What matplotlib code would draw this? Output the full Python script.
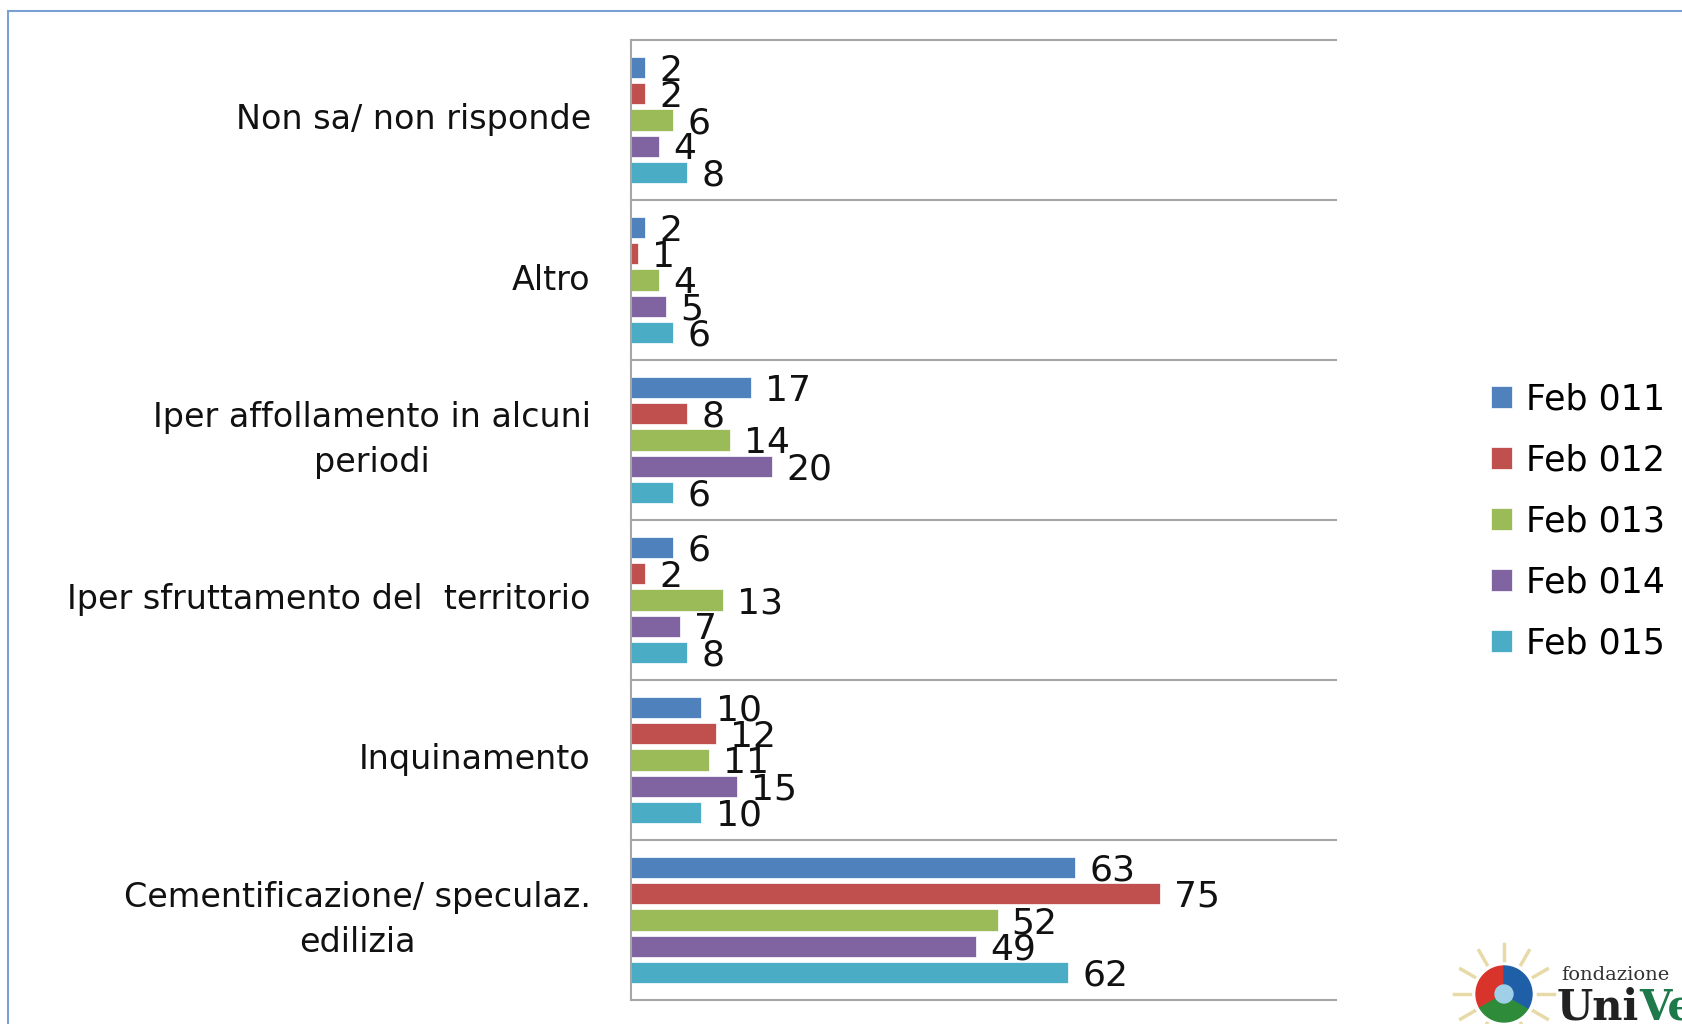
import matplotlib
matplotlib.use("Agg")
from matplotlib import pyplot as plt
from matplotlib.patches import Rectangle, Wedge, Circle
import numpy as np

# data (top category first, series in legend order)
categories = ["Non sa/ non risponde",
              "Altro",
              "Iper affollamento in alcuni\nperiodi",
              "Iper sfruttamento del  territorio",
              "Inquinamento",
              "Cementificazione/ speculaz.\nedilizia"]
series_names = ["Feb 011", "Feb 012", "Feb 013", "Feb 014", "Feb 015"]
feb011 = [2, 2, 17, 6, 10, 63]
feb012 = [2, 1, 8, 2, 12, 75]
feb013 = [6, 4, 14, 13, 11, 52]
feb014 = [4, 5, 20, 7, 15, 49]
feb015 = [8, 6, 6, 8, 10, 62]
colors = ["#4F81BD", "#C0504D", "#9BBB59", "#8064A2", "#4BACC6"]

W, H = 1683, 1024
fig = plt.figure(figsize=(W/100, H/100), dpi=100)
font = "DejaVu Sans"

# outer slide frame
fig.patches.append(Rectangle((8/W, -0.1), 1.2, 1 - 11/H + 0.1, transform=fig.transFigure,
                             fill=False, edgecolor="#7BA0D4", lw=1.5))

ax = fig.add_axes([631/W, 1 - 1000/H, 705/W, 960/H])
step = 0.164
bh = 0.134
all_series = [feb011, feb012, feb013, feb014, feb015]
for j, (name, vals, c) in enumerate(zip(series_names, all_series, colors)):
    ys = [i + 0.5 + (j - 2) * step for i in range(len(categories))]
    ax.barh(ys, vals, height=bh, color=c, label=name, edgecolor="white", lw=0.5)
    for y, v in zip(ys, vals):
        ax.text(v + 2, y + 0.02, str(v), va="center", ha="left", fontsize=26,
                family=font, color="#111111")

ax.set_xlim(0, 100)
ax.set_ylim(len(categories), 0)
for k in range(len(categories) + 1):
    ax.axhline(k, color="#A6A6A6", lw=1.5, clip_on=False)
for s in ["top", "right", "bottom"]:
    ax.spines[s].set_visible(False)
ax.spines["left"].set_color("#A6A6A6")
ax.spines["left"].set_linewidth(1.5)
ax.set_xticks([])
ax.set_yticks([])

for i, cat in enumerate(categories):
    ax.text(-0.057, 1 - (i + 0.5) / len(categories), cat, transform=ax.transAxes,
            ha="right", va="center", multialignment="center", fontsize=24,
            family=font, linespacing=1.45, color="#111111")

fig.legend(loc="center left", bbox_to_anchor=(0.886, 0.491), frameon=False,
           prop={"family": font, "size": 25}, handlelength=0.6, handleheight=0.6,
           handletextpad=0.4, labelspacing=0.78, borderaxespad=0, borderpad=0)

# logo (partially cut at the edge), drawn in inches so the circle stays round
tr = fig.dpi_scale_trans
cx, cy = 15.04, (H - 994) / 100
for a in np.linspace(0, 360, 12, endpoint=False):
    r = np.radians(a)
    fig.add_artist(plt.Line2D([cx + 0.34*np.cos(r), cx + 0.50*np.cos(r)],
                              [cy + 0.34*np.sin(r), cy + 0.50*np.sin(r)],
                              transform=tr, color="#E8D9A8", lw=2.5))
for a0, c in zip([90, 210, 330], ["#D9342B", "#2E8B3A", "#1F5FA8"]):
    fig.patches.append(Wedge((cx, cy), 0.28, a0, a0 + 120, transform=tr, color=c))
fig.patches.append(Circle((cx, cy), 0.09, transform=tr, color="#9FD0E8"))
fig.text(1561/W, 1 - 975/H, "fondazione", fontsize=14, family="DejaVu Serif",
         color="#333333", va="center")
uni = fig.text(1557/W, 1 - 1008/H, "Uni", fontsize=30, family="DejaVu Serif",
               weight="bold", color="#222222", va="center")
fig.add_artist(matplotlib.text.Annotation("Ve", xy=(1, 0.5), xycoords=uni, va="center",
                                          ha="left", fontsize=30, family="DejaVu Serif",
                                          weight="bold", color="#1E7A4A",
                                          annotation_clip=False))

fig.savefig("out.png", dpi=100)
